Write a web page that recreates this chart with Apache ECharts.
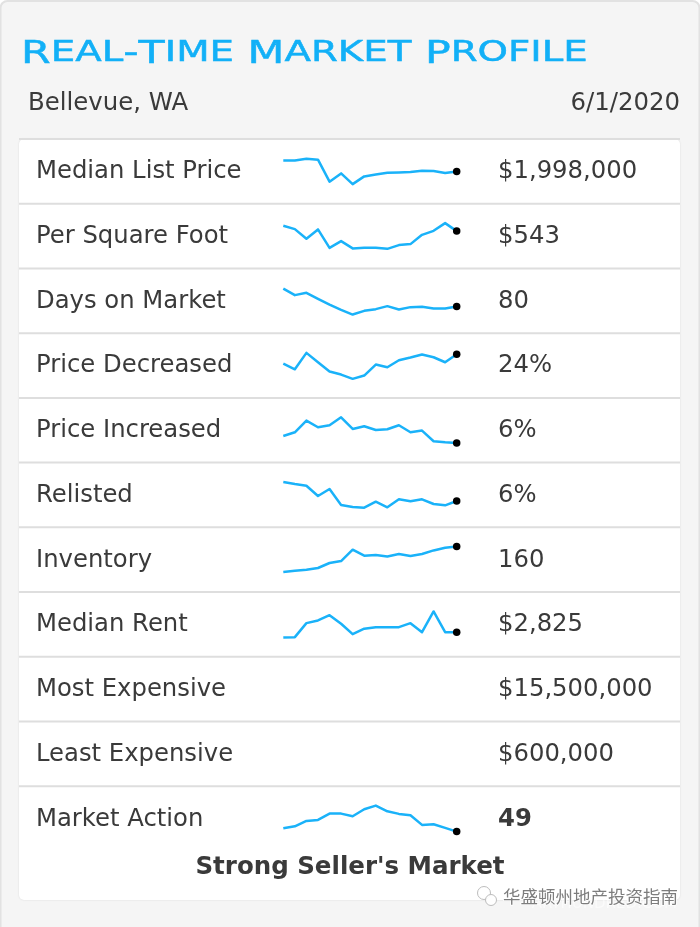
<!DOCTYPE html>
<html><head><meta charset="utf-8">
<script src="https://cdn.jsdelivr.net/npm/echarts@6/dist/echarts.min.js"></script>
<style>html,body{margin:0;padding:0;background:#fff}#c{width:700px;height:927px}</style>
</head><body><div id="c"></div>
<script>
const titleWords = ["Real-Time","Market","Profile"];
const placeText = "Bellevue, WA";
const dateText = "6/1/2020";
const verdictText = "Strong Seller's Market";
const watermarkText = "华盛顿州地产投资指南";
const watermarkSub = "ARTHUNDRED.COM";

const rowLabels = ["Median List Price","Per Square Foot","Days on Market","Price Decreased","Price Increased","Relisted","Inventory","Median Rent","Most Expensive","Least Expensive","Market Action"];
const rowValues = ["$1,998,000","$543","80","24%","6%","6%","160","$2,825","$15,500,000","$600,000","49"];

// Sparkline levels on a relative 0-100 scale (the source shows no axis).
const medianListPrice = [70,70,73.4,71.4,27.4,44,22.6,38,42,45.4,46,46.6,49.4,48.6,44.6,48];
const perSquareFoot   = [68.6,62,42.6,61.4,24.6,38,23.4,24.6,24.6,22.6,30,32,50.6,58.6,74,58];
const daysOnMarket    = [72.6,59.4,64,52,40.6,30,20.6,28,31.4,37.4,30.6,35.4,36,32.6,32.6,36.6];
const priceDecreased  = [52,40.6,73.4,54.6,36,30,21.4,28,50,44.6,58.6,64,70,64.6,54.6,70.6];
const priceIncreased  = [36.6,44,67.4,54,58,74,50.6,56,48.6,50,58,44,47.4,26,24,22.6];
const relisted        = [74,70,66.6,46,60,28,24,22.6,34.6,23.4,39.4,35.4,39.4,30,27.4,36];
const inventory       = [23.4,26,28,31.4,41.4,45.4,68,56,57.4,54.6,59.4,55.4,59.4,66.6,72,74.6];
const medianRent      = [22,22.6,50.6,56,66.6,49.4,28.6,39.4,42.6,42.6,42.6,50.6,32.6,74,32.6,32.6];
const marketAction    = [28.6,32.6,43.4,45.4,58,58,52.6,66.6,74,62.6,57.4,54.6,35.4,36.6,29.4,22];
const sparkByRow = [medianListPrice,perSquareFoot,daysOnMarket,priceDecreased,priceIncreased,relisted,inventory,medianRent,null,null,marketAction];

const FONT = "'DejaVu Sans'";
const INK = "#3a3a3a", BLUE = "#1ab2f9", RULE = "#dedede", TITLE = "#12b0f7";
const rowTop = i => 139 + i * 64.72;

// Title keeps its mixed-case text; caps and small caps are two sizes on one baseline.
const titleRich = titleWords.map(w => w.split('-').map(p => `{cap|${p[0]}}{low|${p.slice(1)}}`).join('{cap|-}')).join('{cap| }');

const graphic = [
  {type:'rect',z:0,shape:{x:0.5,y:1,width:699,height:940,r:7},style:{fill:'#f5f5f5',stroke:'#e2e2e2',lineWidth:2}},
  {type:'rect',z:0,shape:{x:19,y:139,width:661,height:761,r:5},style:{fill:'#fff',shadowBlur:2,shadowColor:'rgba(0,0,0,0.12)'}},
  {type:'text',z:5,x:21,y:51,scaleX:1.335,style:{text:titleRich,fill:TITLE,verticalAlign:'middle',align:'left',
    rich:{
      cap:{font:"400 32px "+FONT,fill:TITLE,stroke:TITLE,lineWidth:0.5,lineHeight:34,verticalAlign:'bottom'},
      low:{font:"small-caps 400 41px "+FONT,fill:TITLE,stroke:TITLE,lineWidth:0.5,lineHeight:40,verticalAlign:'bottom'}
    }}},
  {type:'text',z:5,x:28,y:104,style:{text:placeText,font:"400 24.4px "+FONT,fill:INK,verticalAlign:'middle'}},
  {type:'text',z:5,x:680,y:104,style:{text:dateText,font:"400 24.4px "+FONT,fill:INK,verticalAlign:'middle',align:'right'}},
  {type:'text',z:5,x:350,y:868,style:{text:verdictText,font:"700 24.5px "+FONT,fill:INK,verticalAlign:'middle',align:'center'}},
  {type:'text',z:7,x:677,y:904,style:{text:watermarkSub,font:"400 15px "+FONT,fill:'rgba(255,255,255,0.55)',verticalAlign:'middle',align:'right'}},
  {type:'text',z:8,x:503,y:896,style:{text:watermarkText,font:"400 17.5px 'Noto Sans CJK SC'",fill:'#7d7d7d',stroke:'#fff',lineWidth:1.5,verticalAlign:'middle'}},
  {type:'circle',z:8,shape:{cx:484,cy:893,r:6.5},style:{fill:'rgba(255,255,255,0.9)',stroke:'#bdbdbd',lineWidth:1}},
  {type:'circle',z:8,shape:{cx:491,cy:900,r:5.5},style:{fill:'rgba(255,255,255,0.9)',stroke:'#bdbdbd',lineWidth:1}}
];
const grids=[],xAxes=[],yAxes=[],series=[];
rowLabels.forEach((label,i)=>{
  const top = rowTop(i);
  graphic.push({type:'rect',z:2,shape:{x:19,y:top-1,width:661,height:2},style:{fill:RULE}});
  graphic.push({type:'text',z:5,x:36,y:top+33,style:{text:label,font:"400 24.3px "+FONT,fill:INK,verticalAlign:'middle'}});
  graphic.push({type:'text',z:5,x:498,y:top+33,style:{text:rowValues[i],font:(i===10?"700":"400")+" 24.3px "+FONT,fill:INK,verticalAlign:'middle'}});
  const vals = sparkByRow[i];
  if(!vals) return;
  const g = grids.length;
  grids.push({left:283.3,width:173.4,top:top+6.4,height:50});
  xAxes.push({type:'value',gridIndex:g,min:0,max:vals.length-1,show:false});
  yAxes.push({type:'value',gridIndex:g,min:0,max:100,show:false});
  series.push({type:'line',xAxisIndex:g,yAxisIndex:g,z:10,silent:true,showSymbol:false,animation:false,
    data:vals.map((v,k)=>[k,v]),lineStyle:{color:BLUE,width:2.5,join:'round'},itemStyle:{color:BLUE}});
  series.push({type:'scatter',xAxisIndex:g,yAxisIndex:g,z:11,silent:true,animation:false,symbolSize:7.5,
    data:[[vals.length-1,vals[vals.length-1]]],itemStyle:{color:'#000',opacity:1}});
});
const chart = echarts.init(document.getElementById('c'),null,{renderer:'canvas'});
chart.setOption({animation:false,backgroundColor:'#fff',grid:grids,xAxis:xAxes,yAxis:yAxes,series,graphic:{elements:graphic}});
</script></body></html>
